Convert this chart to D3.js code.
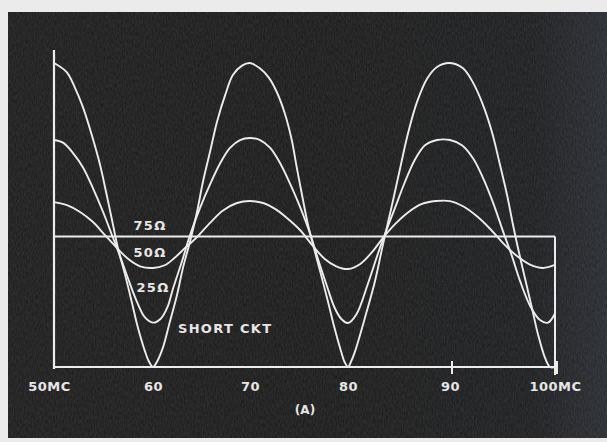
<!DOCTYPE html>
<html>
<head>
<meta charset="utf-8">
<script src="https://cdn.jsdelivr.net/npm/d3@7"></script>
<style>
html,body{margin:0;padding:0;background:#ebebeb;}
svg{display:block;}
text{font-family:"DejaVu Sans",sans-serif;font-weight:bold;fill:#e6e6e6;}
</style>
</head>
<body>
<svg id="chart" width="607" height="442"></svg>
<script>
// ---- data (frequency in MC, relative response; matched 75 ohm line = 1) ----
const freqTicks = [50, 60, 70, 80, 90, 100];
const tickLabels = ["50MC", "60", "70", "80", "90", "100MC"];
const markedTicks = [90, 100];

const shortCkt = [
  [50,2.33],[51.28,2.26],[52.12,2.14],[52.93,1.99],[53.81,1.78],[54.65,1.55],[55.32,1.32],[55.96,1.09],
  [56.46,0.91],[57.17,0.71],[57.85,0.50],[58.48,0.30],[59.19,0.12],[59.6,0.04],[60,0],
  [60.41,0.04],[61.03,0.15],[61.75,0.35],[62.47,0.55],[63.09,0.76],[63.81,0.96],[64.54,1.19],[65.15,1.42],
  [65.88,1.65],[66.6,1.88],[67.42,2.08],[68.25,2.24],[69.18,2.31],[70,2.33],
  [71.0,2.29],[71.9,2.22],[72.72,2.11],[73.57,1.94],[74.26,1.74],[74.77,1.53],[75.28,1.33],[75.92,1.09],[76.53,0.91],
  [77.24,0.71],[77.96,0.50],[78.62,0.30],[79.29,0.12],[79.64,0.04],[80,0],
  [80.29,0.04],[80.69,0.12],[81.67,0.38],[82.65,0.66],[83.43,0.94],[84.31,1.24],[85.1,1.52],[85.88,1.79],
  [86.76,2.03],[87.75,2.21],[88.73,2.30],[90,2.33],
  [91.24,2.29],[92.19,2.18],[93.14,2.01],[94.0,1.80],[94.76,1.55],[95.43,1.32],[96.0,1.09],[96.48,0.91],
  [97.14,0.68],[97.81,0.45],[98.38,0.25],[99.05,0.07],[99.52,0],[100,0]
];
const ohm25 = [
  [50,1.74],[50.91,1.72],[51.92,1.64],[52.93,1.53],[53.94,1.37],[54.95,1.19],[55.86,1.01],[56.67,0.85],
  [57.47,0.68],[58.38,0.50],[59.19,0.38],[60,0.34],
  [60.8,0.37],[61.5,0.46],[62.06,0.60],[62.99,0.81],[63.81,1.01],[64.85,1.22],[65.88,1.40],[66.91,1.56],
  [67.94,1.68],[68.97,1.74],[70,1.755],
  [71.03,1.74],[72.06,1.68],[73.09,1.56],[74.12,1.40],[75.15,1.22],[76.19,1.01],[77.01,0.81],[77.94,0.60],
  [78.6,0.46],[79.3,0.37],[80,0.337],
  [80.8,0.40],[81.96,0.64],[82.94,0.87],[83.63,1.02],[84.61,1.22],[85.59,1.42],[86.57,1.59],
  [87.55,1.70],[88.73,1.74],[90,1.74],
  [91.14,1.70],[92.19,1.60],[93.14,1.45],[94.1,1.26],[95.05,1.04],[95.9,0.85],[96.67,0.66],[97.62,0.47],
  [98.57,0.36],[99.33,0.34],[100,0.41]
];
const ohm50 = [
  [50,1.264],[51.31,1.241],[52.63,1.188],[53.94,1.111],[55.15,1.011],[56.36,0.912],[57.47,0.83],[58.69,0.772],[60,0.759],
  [61.2,0.78],[62.2,0.835],[63.3,0.912],[64.54,0.996],[65.88,1.105],[67.22,1.200],[68.66,1.257],[70,1.272],
  [71.34,1.257],[72.6,1.210],[73.8,1.14],[75.1,1.050],[76.4,0.93],[77.6,0.83],[78.8,0.772],[80,0.751],
  [81.2,0.79],[82.35,0.88],[83.43,0.99],[84.61,1.095],[85.88,1.185],[87.25,1.250],[88.6,1.272],[90,1.272],
  [91.24,1.232],[92.57,1.155],[93.81,1.060],[95.05,0.950],[96.38,0.850],[97.62,0.785],[98.86,0.759],[100,0.782]
];
const ohm75 = [[50,1],[100,1]];
const yMax = 2.43;

// ---- drawing ----
const svg = d3.select("#chart");
const W = 607, H = 442;
const defs = svg.append("defs");
const grad = defs.append("linearGradient").attr("id","bg").attr("x1","0").attr("x2","1").attr("y1","0").attr("y2","0");
grad.append("stop").attr("offset","0").attr("stop-color","#201f1f");
grad.append("stop").attr("offset","0.5").attr("stop-color","#1d1d1d");
grad.append("stop").attr("offset","0.88").attr("stop-color","#1f2022");
grad.append("stop").attr("offset","1").attr("stop-color","#2a2d33");
const filt = defs.append("filter").attr("id","grain").attr("x","0").attr("y","0").attr("width","1").attr("height","1");
filt.append("feTurbulence").attr("type","fractalNoise").attr("baseFrequency","0.9 0.25").attr("numOctaves","2").attr("seed","3").attr("result","n");
filt.append("feColorMatrix").attr("in","n").attr("type","matrix")
  .attr("values","0 0 0 0 0.6  0 0 0 0 0.6  0 0 0 0 0.6  0 0 0 0.16 -0.03");
filt.append("feComposite").attr("in2","SourceGraphic").attr("operator","in");

svg.append("rect").attr("width",W).attr("height",H).attr("fill","#ebebeb");
svg.append("rect").attr("x",8).attr("y",12).attr("width",W-8).attr("height",426).attr("fill","url(#bg)");
svg.append("rect").attr("x",8).attr("y",12).attr("width",W-8).attr("height",426).attr("fill","#fff").attr("filter","url(#grain)");

const x = d3.scaleLinear().domain(freqTicks).range([54,153,250,348,450,555]);
const y = d3.scaleLinear().domain([0,yMax]).range([367,50]);

const ink = "#ececec";
const g = svg.append("g");

// frame lines: left axis, baseline, right edge
g.append("line").attr("x1",x(50)).attr("x2",x(50)).attr("y1",y(0)+2).attr("y2",y(yMax))
  .attr("stroke",ink).attr("stroke-width",2.2);
g.append("line").attr("x1",x(50)).attr("x2",x(100)).attr("y1",y(0)).attr("y2",y(0))
  .attr("stroke",ink).attr("stroke-width",2.2);
g.append("line").attr("x1",x(100)).attr("x2",x(100)).attr("y1",y(0)+8).attr("y2",y(1))
  .attr("stroke",ink).attr("stroke-width",2);

// tick marks
g.selectAll(".tk").data(markedTicks).enter().append("line")
  .attr("x1",d=>x(d)+2).attr("x2",d=>x(d)+2).attr("y1",y(0)-6).attr("y2",y(0)+7)
  .attr("stroke",ink).attr("stroke-width",2);

// axis labels
const axis = d3.axisBottom(x).tickValues(freqTicks).tickSize(0).tickPadding(0)
  .tickFormat((d,i)=>tickLabels[i]);
const ax = svg.append("g").attr("transform",`translate(0,${y(0)+24})`).call(axis);
ax.select(".domain").remove();
ax.selectAll("text").attr("dy",0).attr("font-size",13).attr("fill","#e2e2e2")
  .style("font-family","DejaVu Sans, sans-serif").style("font-weight","bold").style("letter-spacing","0.5px");
ax.selectAll(".tick").filter(d=>d===50).select("text").attr("dx",-5);

svg.append("text").attr("x",305).attr("y",414).attr("text-anchor","middle").attr("font-size",12).text("(A)");

// curves
const line = d3.line().x(d=>x(d[0])).y(d=>y(d[1])).curve(d3.curveCatmullRom.alpha(0.5));
[ohm75, ohm50, ohm25, shortCkt].forEach(s=>{
  g.append("path").attr("d",line(s)).attr("fill","none").attr("stroke",ink)
    .attr("stroke-width",1.9).attr("stroke-linejoin","round");
});

// curve labels
const lab = svg.append("g").attr("font-size",13).style("letter-spacing","1.3px");
lab.append("text").attr("x",150).attr("y",230).attr("text-anchor","middle").text("75Ω");
lab.append("text").attr("x",150).attr("y",257).attr("text-anchor","middle").text("50Ω");
lab.append("text").attr("x",153).attr("y",292).attr("text-anchor","middle").text("25Ω");
lab.append("text").attr("x",178).attr("y",333).text("SHORT CKT");
</script>
</body>
</html>
